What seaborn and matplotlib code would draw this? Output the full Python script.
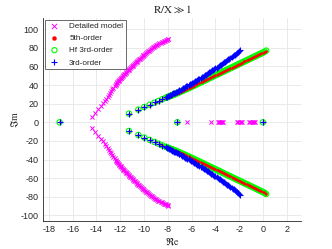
import numpy as np
import pandas as pd
import matplotlib
matplotlib.use("Agg")
import matplotlib.pyplot as plt
import seaborn as sns

sns.set_style("white")
plt.rcParams['font.family'] = ['Liberation Sans', 'DejaVu Sans']
plt.rcParams['mathtext.fontset'] = 'stix'
plt.rcParams['axes.unicode_minus'] = False

# ---------------- data (upper half-plane; poles come in conjugate pairs) ----------------
det_re = [-14.41, -14.10, -13.85, -13.63, -13.46, -13.32, -13.19, -13.07, -12.96, -12.86,
          -12.76, -12.67, -12.57, -12.48, -12.40, -12.35, -12.29, -12.24, -12.18, -12.13,
          -12.07, -12.02, -11.96, -11.90, -11.84, -11.79, -11.73, -11.67, -11.61, -11.55,
          -11.49, -11.43, -11.36, -11.30, -11.23, -11.17, -11.10, -11.04, -10.97, -10.91,
          -10.84, -10.77, -10.70, -10.63, -10.56, -10.49, -10.42, -10.35, -10.27, -10.20,
          -10.12, -10.05, -9.97, -9.90, -9.82, -9.75, -9.67, -9.60, -9.52, -9.45,
          -9.37, -9.28, -9.19, -9.10, -9.00, -8.90, -8.80, -8.70, -8.60, -8.50,
          -8.40, -8.30, -8.20, -8.12, -8.05, -8.00, -7.96]
det_im = [5.8, 10.5, 14.3, 17.5, 20.3, 22.9, 25.3, 27.5, 29.6, 31.6,
          33.5, 35.3, 37.1, 38.8, 40.5, 41.3, 42.2, 43.0, 43.9, 44.7,
          45.6, 46.4, 47.3, 48.1, 49.0, 49.8, 50.7, 51.5, 52.4, 53.2,
          54.1, 54.9, 55.8, 56.6, 57.5, 58.3, 59.2, 60.0, 60.9, 61.7,
          62.6, 63.4, 64.3, 65.1, 66.0, 66.8, 67.7, 68.5, 69.4, 70.2,
          71.1, 71.9, 72.8, 73.6, 74.5, 75.3, 76.2, 77.0, 77.9, 78.7,
          79.6, 80.4, 81.2, 82.0, 82.7, 83.4, 84.1, 84.8, 85.4, 86.0,
          86.6, 87.2, 87.7, 88.2, 88.7, 89.1, 89.5]
det_real_axis = [-6.36, -4.39, -3.80, -3.70, -3.60, -3.50, -3.42, -3.35,
                 -2.20, -2.07, -1.95, -1.85, -1.78, -1.14, -1.05, -0.95, -0.85, -0.75, -0.66]

hf_re = [-11.27, -10.48, -9.98, -9.52, -9.12, -8.78, -8.47, -8.19,
         -8.10, -8.01, -7.93, -7.85, -7.77, -7.69, -7.61, -7.53, -7.46, -7.38,
         -7.31, -7.24, -7.17, -7.10, -7.03, -6.93, -6.83, -6.73, -6.63, -6.54,
         -6.44, -6.35, -6.25, -6.16, -6.06, -5.97, -5.88, -5.79, -5.70, -5.61,
         -5.52, -5.43, -5.34, -5.25, -5.16, -5.07, -4.98, -4.89, -4.80, -4.71,
         -4.62, -4.53, -4.44, -4.35, -4.26, -4.17, -4.08, -3.99, -3.90, -3.81,
         -3.72, -3.63, -3.54, -3.45, -3.36, -3.27, -3.18, -3.09, -3.00, -2.91,
         -2.82, -2.73, -2.64, -2.55, -2.46, -2.37, -2.28, -2.19, -2.10, -2.01,
         -1.92, -1.83, -1.74, -1.65, -1.56, -1.47, -1.38, -1.29, -1.20, -1.11,
         -1.02, -0.93, -0.84, -0.75, -0.66, -0.57, -0.48, -0.39, -0.30, -0.21,
         -0.12, -0.03, 0.06, 0.16, 0.27]
hf_im = [9.3, 13.6, 16.4, 18.9, 21.1, 23.0, 24.7, 26.2,
         26.7, 27.1, 27.6, 28.0, 28.4, 28.8, 29.2, 29.6, 30.0, 30.4,
         30.8, 31.2, 31.6, 31.9, 32.3, 32.9, 33.4, 34.0, 34.5, 35.1,
         35.6, 36.2, 36.7, 37.3, 37.8, 38.4, 38.9, 39.5, 40.0, 40.6,
         41.1, 41.7, 42.2, 42.8, 43.3, 43.9, 44.4, 45.0, 45.5, 46.1,
         46.6, 47.2, 47.7, 48.3, 48.8, 49.4, 49.9, 50.5, 51.0, 51.6,
         52.1, 52.7, 53.2, 53.8, 54.3, 54.9, 55.4, 56.0, 56.5, 57.1,
         57.6, 58.2, 58.7, 59.3, 59.8, 60.4, 60.9, 61.5, 62.0, 62.6,
         63.1, 63.7, 64.2, 64.8, 65.3, 65.9, 66.4, 67.0, 67.5, 68.1,
         68.6, 69.2, 69.7, 70.3, 70.8, 71.4, 71.9, 72.5, 73.0, 73.6,
         74.1, 74.7, 75.2, 76.0, 77.0]
low_real_axis = [-17.10, -7.20, 0.0]

o3_re = [-11.27, -10.48, -9.98, -9.52, -9.12, -8.78, -8.47, -8.19,
         -8.10, -8.01, -7.93, -7.85, -7.77, -7.69, -7.61, -7.53, -7.46, -7.38,
         -7.31, -7.24, -7.17, -7.10, -7.03, -6.93, -6.83, -6.73, -6.63, -6.54,
         -6.44, -6.35, -6.25, -6.16, -6.06, -5.97, -5.88, -5.79, -5.70, -5.61,
         -5.52, -5.43, -5.34, -5.25, -5.16, -5.07, -4.98, -4.89, -4.80, -4.71,
         -4.62, -4.53, -4.44, -4.35, -4.26, -4.17, -4.08, -3.99, -3.90, -3.81,
         -3.72, -3.63, -3.54, -3.45, -3.36, -3.27, -3.18, -3.09, -3.00, -2.91,
         -2.82, -2.73, -2.64, -2.55, -2.46, -2.37, -2.28, -2.19, -2.10, -2.01, -1.92]
o3_im = [9.3, 13.6, 16.5, 19.1, 21.4, 23.4, 25.2, 26.9,
         27.4, 27.9, 28.5, 29.0, 29.5, 30.0, 30.5, 31.0, 31.5, 32.0,
         32.4, 32.9, 33.4, 33.8, 34.3, 35.0, 35.7, 36.4, 37.1, 37.8,
         38.5, 39.2, 39.9, 40.6, 41.3, 42.0, 42.7, 43.4, 44.1, 44.8,
         45.5, 46.2, 46.9, 47.6, 48.3, 49.1, 49.8, 50.6, 51.3, 52.1,
         52.8, 53.6, 54.3, 55.1, 55.8, 56.6, 57.3, 58.1, 58.8, 59.6,
         60.4, 61.2, 62.0, 62.8, 63.6, 64.4, 65.2, 66.0, 66.8, 67.7,
         68.5, 69.4, 70.2, 71.1, 71.9, 72.8, 73.7, 74.6, 75.6, 76.6, 77.6]


def pole_frame(re, im, real_axis):
    re_all = list(re) + list(re) + list(real_axis)
    im_all = list(im) + [-v for v in im] + [0.0] * len(real_axis)
    return pd.DataFrame({"Re": re_all, "Im": im_all})


df_det = pole_frame(det_re, det_im, det_real_axis)
df_5 = pole_frame(hf_re, hf_im, low_real_axis)
df_hf = pole_frame(hf_re, hf_im, low_real_axis)
df_3 = pole_frame(o3_re, o3_im, low_real_axis)

fig = plt.figure(figsize=(3.32, 2.49), dpi=100)
ax = fig.add_axes([0.1295, 0.1124, 0.777, 0.8153])

sns.scatterplot(data=df_det, x="Re", y="Im", ax=ax, marker="x", color="#ff00ff",
                s=9, linewidth=0.7, label="Detailed model", zorder=3)
sns.scatterplot(data=df_5, x="Re", y="Im", ax=ax, marker="o", color="#ff0000",
                edgecolor="#ff0000", s=2.5, linewidth=0.2, label="5th-order", zorder=5)
sns.scatterplot(data=df_hf, x="Re", y="Im", ax=ax, marker="o", facecolor="none",
                edgecolor="#00ff00", s=15, linewidth=0.8, label="Hf 3rd-order", zorder=4)
sns.scatterplot(data=df_3, x="Re", y="Im", ax=ax, marker="+", color="#0000ff",
                s=14, linewidth=0.8, label="3rd-order", zorder=6)

ax.set_xlim(-18.5, 3.2)
ax.set_ylim(-106, 112)
ax.set_xticks(np.arange(-18, 3, 2))
ax.set_yticks(np.arange(-100, 101, 20))
ax.grid(True, color="#e6e6e6", linewidth=0.6)
ax.set_axisbelow(True)
for side in ["top", "right"]:
    ax.spines[side].set_visible(False)
for side in ["left", "bottom"]:
    ax.spines[side].set_color("#262626")
    ax.spines[side].set_linewidth(0.6)
ax.tick_params(axis="both", labelsize=6.5, colors="#262626", direction="in",
               length=2, width=0.5, pad=3)

ax.set_title(r"$\mathrm{R/X} \gg 1$", fontsize=8, pad=4)
ax.set_xlabel(r"$\Re\mathrm{e}$", fontsize=7, labelpad=1)
ax.set_ylabel(r"$\Im\mathrm{m}$", fontsize=7, labelpad=0)

leg = ax.legend(loc="upper left", fontsize=5.9, frameon=True, fancybox=False,
                borderaxespad=0.2, handletextpad=0.9, labelspacing=0.55,
                borderpad=0.3, handlelength=1.8)
leg.get_frame().set_edgecolor("#262626")
leg.get_frame().set_linewidth(0.6)
for h, sz in zip(leg.legend_handles, [14, 9, 14, 14]):
    try:
        h.set_sizes([sz])
    except AttributeError:
        pass

fig.savefig("out.png", dpi=100)
